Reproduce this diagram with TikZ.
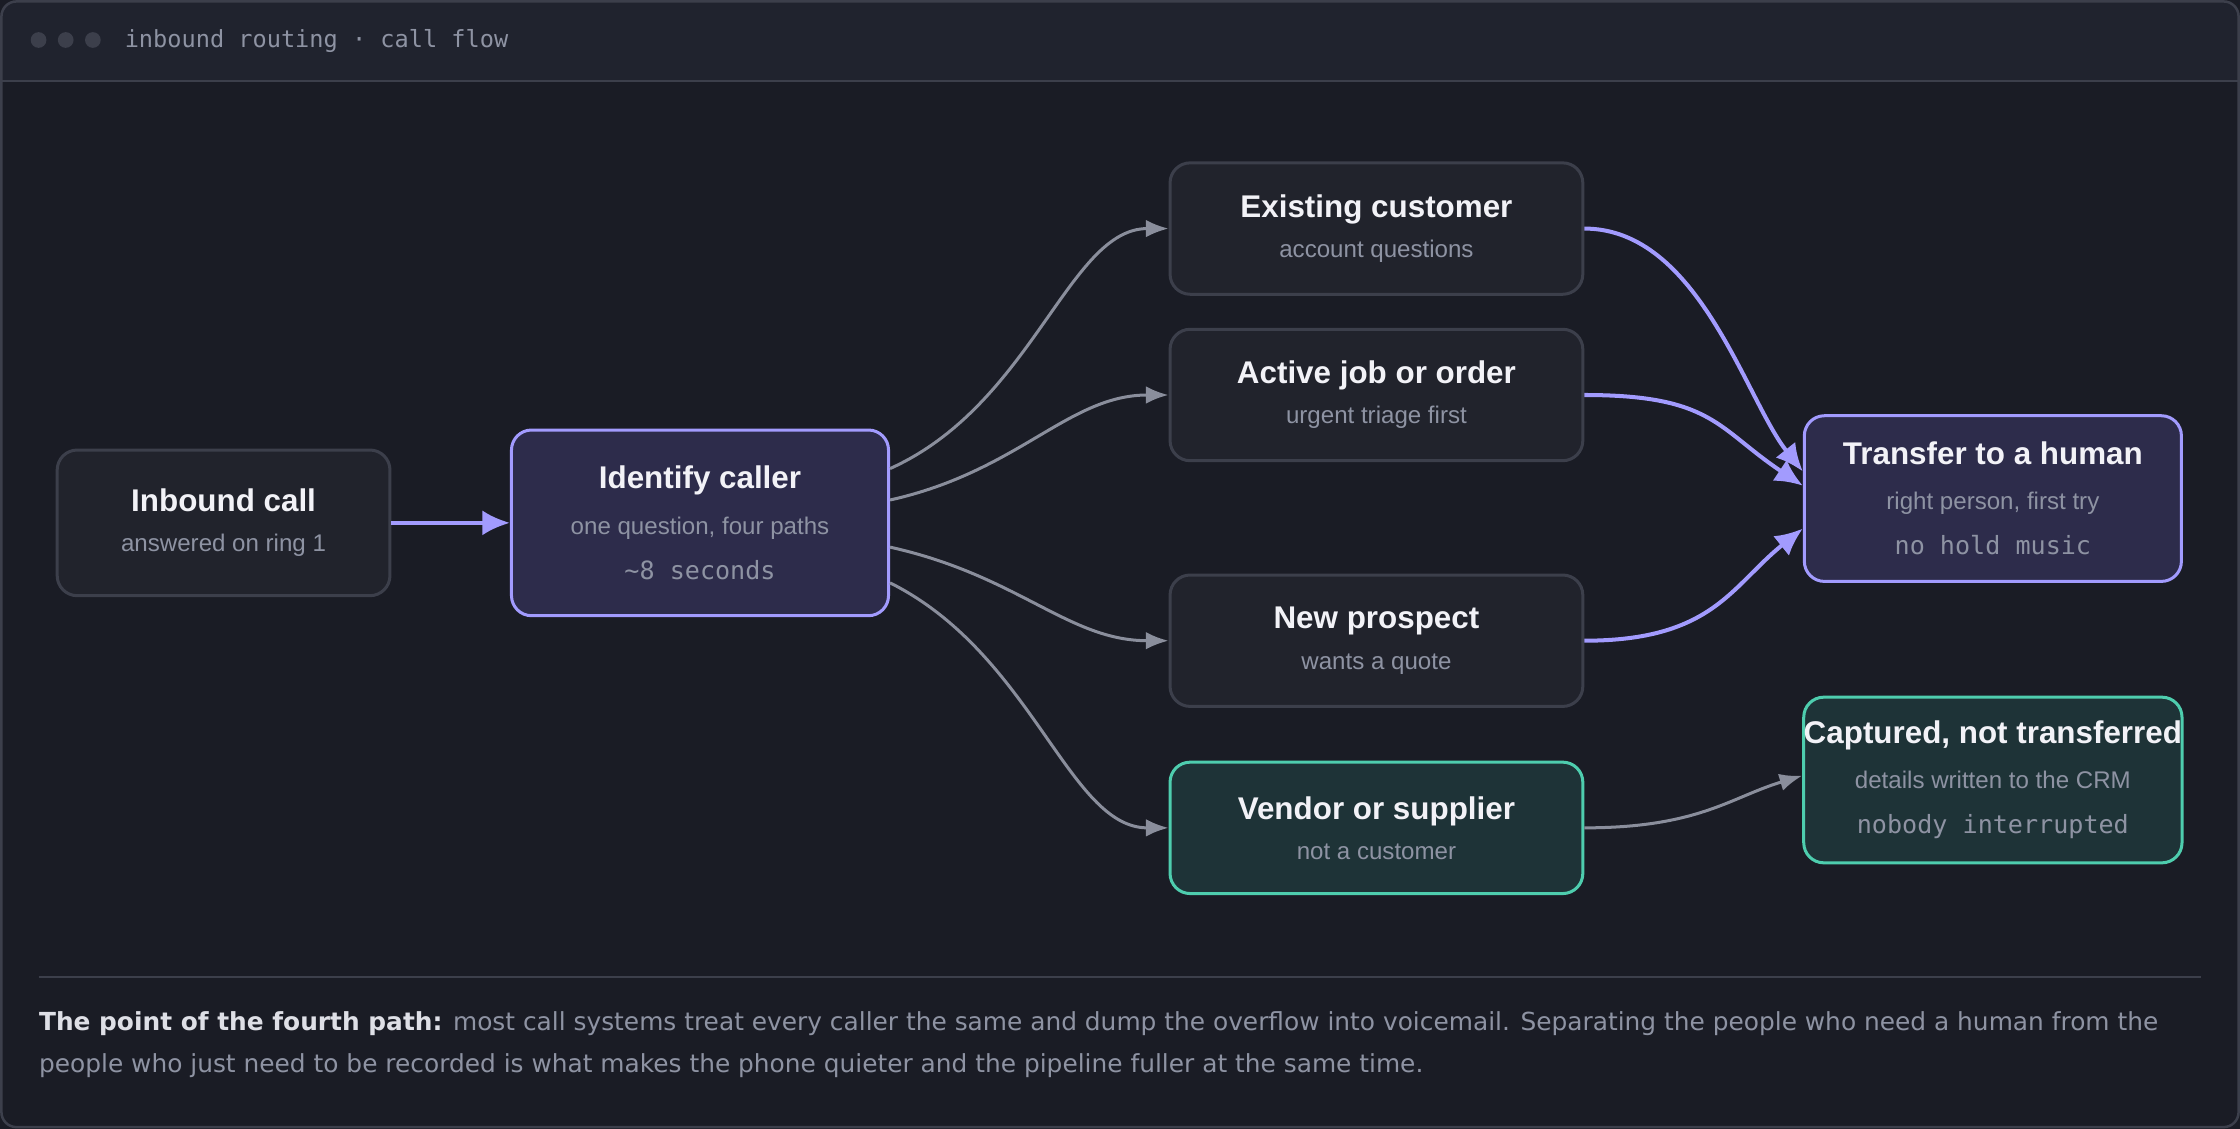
\documentclass[tikz,border=0pt]{standalone}
\usepackage{fontspec}
\setmainfont{Liberation Sans}
\newfontfamily\monofont{DejaVu Sans Mono}
\newfontfamily\footfont{DejaVu Sans}
\usepackage{xcolor}
\definecolor{bgdark}{HTML}{1A1C25}
\definecolor{bardark}{HTML}{20232E}
\definecolor{boxfill}{HTML}{21232C}
\definecolor{boxline}{HTML}{3C3F4B}
\definecolor{lilac}{HTML}{A29BFE}
\definecolor{lilacfill}{HTML}{2D2C4B}
\definecolor{teal}{HTML}{4ECDAE}
\definecolor{tealfill}{HTML}{1E3337}
\definecolor{txtwhite}{HTML}{F2F2F7}
\definecolor{txtgray}{HTML}{8E93A3}
\definecolor{wiregray}{HTML}{8A8E9C}
\usetikzlibrary{arrows.meta,positioning}

\tikzset{
	card/.style={draw=boxline,fill=boxfill,rounded corners=8pt,line width=1.2pt,align=center,inner sep=0pt},
	hot/.style={card,draw=lilac,fill=lilacfill},
	cool/.style={card,draw=teal,fill=tealfill},
	wire/.style={draw=wiregray,line width=1.2pt,-{Latex[length=9pt,width=7pt]}},
	pwire/.style={draw=lilac,line width=1.6pt,-{Latex[length=11pt,width=10pt]}},
}
\newcommand{\ttl}[1]{{\fontsize{12.5}{14}\selectfont\bfseries\color{txtwhite}#1}}
\newcommand{\sub}[1]{{\fontsize{9.6}{11}\selectfont\color{txtgray}#1}}
\newcommand{\mono}[1]{{\fontsize{10}{12}\selectfont\monofont\color{txtgray}#1}}

\begin{document}
\begin{tikzpicture}[x=0.02cm,y=-0.02cm]
	% frame
	\fill[bgdark] (0,0) rectangle (1568,790);
	\fill[bardark,rounded corners=6pt] (1,1) rectangle (1567,57);
	\fill[bardark] (1,30) rectangle (1567,57);
	\draw[boxline,line width=0.8pt] (1,57) -- (1567,57);
	\draw[boxline,line width=1pt,rounded corners=6pt] (1,1) rectangle (1567,789);
	\foreach \dx in {27,46,65}
		\fill[boxline] (\dx,28) circle (5.5);
	\node[anchor=west,inner sep=0pt] (title) at (87,29) {\fontsize{9.4}{11}\selectfont\monofont\color{txtgray}inbound routing · call flow};
	
	% cards
	\node[card,minimum width=4.66cm,minimum height=2.04cm] (inbound) at (156.5,366) {\ttl{Inbound call}\\[4pt]\sub{answered on ring 1}};
	\node[hot,minimum width=5.28cm,minimum height=2.6cm] (ident) at (490,366) {\ttl{Identify caller}\\[6pt]\sub{one question, four paths}\\[6pt]\mono{\textasciitilde8 seconds}};
	\node[card,minimum width=5.78cm,minimum height=1.84cm] (existing) at (963.5,160) {\ttl{Existing customer}\\[4pt]\sub{account questions}};
	\node[card,minimum width=5.78cm,minimum height=1.84cm] (active) at (963.5,276.5) {\ttl{Active job or order}\\[4pt]\sub{urgent triage first}};
	\node[card,minimum width=5.78cm,minimum height=1.84cm] (prospect) at (963.5,448.5) {\ttl{New prospect}\\[4pt]\sub{wants a quote}};
	\node[cool,minimum width=5.78cm,minimum height=1.84cm] (vendor) at (963.5,579.5) {\ttl{Vendor or supplier}\\[4pt]\sub{not a customer}};
	\node[hot,minimum width=5.28cm,minimum height=2.32cm] (human) at (1395,349) {\ttl{Transfer to a human}\\[6pt]\sub{right person, first try}\\[6pt]\mono{no hold music}};
	\node[cool,minimum width=5.28cm,minimum height=2.32cm] (crm) at (1395,546) {\ttl{Captured, not transferred}\\[6pt]\sub{details written to the CRM}\\[6pt]\mono{nobody interrupted}};
	
	% connectors
	\draw[pwire] (inbound.east) -- (ident.west);
	\draw[wire] ([yshift=0.76cm]ident.east) .. controls +(100,-45) and +(-70,0) .. (existing.west);
	\draw[wire] ([yshift=0.32cm]ident.east) .. controls +(90,-20) and +(-70,0) .. (active.west);
	\draw[wire] ([yshift=-0.34cm]ident.east) .. controls +(90,20) and +(-70,0) .. (prospect.west);
	\draw[wire] ([yshift=-0.84cm]ident.east) .. controls +(100,50) and +(-70,0) .. (vendor.west);
	\draw[pwire] (existing.east) .. controls +(80,0) and +(-40,-50) .. ([yshift=0.38cm]human.west);
	\draw[pwire] (active.east) .. controls +(90,0) and +(-60,-40) .. ([yshift=0.18cm]human.west);
	\draw[pwire] (prospect.east) .. controls +(90,0) and +(-50,40) .. ([yshift=-0.42cm]human.west);
	\draw[wire] (vendor.east) .. controls +(80,0) and +(-50,15) .. ([yshift=0.06cm]crm.west);
	
	% footer
	\draw[boxline,line width=0.8pt] (27,684) coordinate (rulel) -- (1541,684) coordinate (ruler);
	\node[anchor=north west,inner sep=0pt,align=left,text=txtgray,font=\fontsize{9.9}{16.5}\selectfont\footfont] (note) at (27,708) {{\bfseries\color{txtwhite!80!txtgray}The point of the fourth path:} most call systems treat every caller the same and dump the overflow into voicemail. Separating the people who need a human from the\\ people who just need to be recorded is what makes the phone quieter and the pipeline fuller at the same time.};
\end{tikzpicture}
\end{document}
